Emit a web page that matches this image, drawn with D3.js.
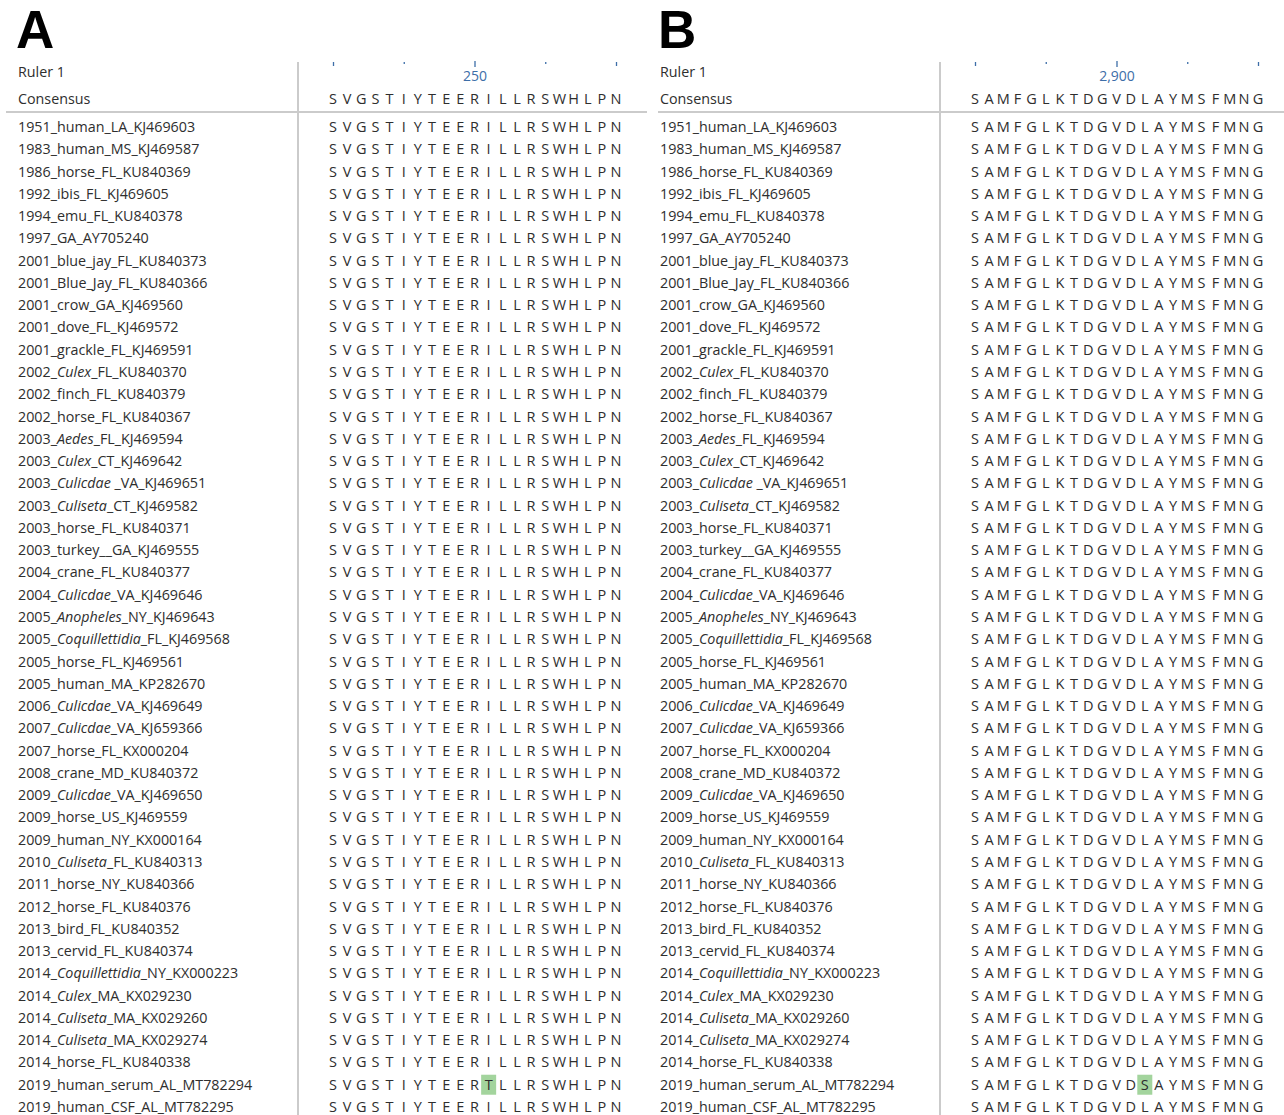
<!DOCTYPE html>
<html><head><meta charset="utf-8">
<script src="https://cdn.jsdelivr.net/npm/d3@7"></script>
<style>
html,body{margin:0;padding:0;background:#fff;}
svg{display:block;}
</style></head>
<body>
<svg id="chart" width="1284" height="1115"></svg>
<script>
// ---------- DATA ----------
// isolate names; *...* marks italic (genus) parts
const isolates = [
  "1951_human_LA_KJ469603","1983_human_MS_KJ469587","1986_horse_FL_KU840369","1992_ibis_FL_KJ469605",
  "1994_emu_FL_KU840378","1997_GA_AY705240","2001_blue_jay_FL_KU840373","2001_Blue_Jay_FL_KU840366",
  "2001_crow_GA_KJ469560","2001_dove_FL_KJ469572","2001_grackle_FL_KJ469591","2002_*Culex*_FL_KU840370",
  "2002_finch_FL_KU840379","2002_horse_FL_KU840367","2003_*Aedes*_FL_KJ469594","2003_*Culex*_CT_KJ469642",
  "2003_*Culicdae* _VA_KJ469651","2003_*Culiseta*_CT_KJ469582","2003_horse_FL_KU840371","2003_turkey__GA_KJ469555",
  "2004_crane_FL_KU840377","2004_*Culicdae*_VA_KJ469646","2005_*Anopheles*_NY_KJ469643","2005_*Coquillettidia*_FL_KJ469568",
  "2005_horse_FL_KJ469561","2005_human_MA_KP282670","2006_*Culicdae*_VA_KJ469649","2007_*Culicdae*_VA_KJ659366",
  "2007_horse_FL_KX000204","2008_crane_MD_KU840372","2009_*Culicdae*_VA_KJ469650","2009_horse_US_KJ469559",
  "2009_human_NY_KX000164","2010_*Culiseta*_FL_KU840313","2011_horse_NY_KU840366","2012_horse_FL_KU840376",
  "2013_bird_FL_KU840352","2013_cervid_FL_KU840374","2014_*Coquillettidia*_NY_KX000223","2014_*Culex*_MA_KX029230",
  "2014_*Culiseta*_MA_KX029260","2014_*Culiseta*_MA_KX029274","2014_horse_FL_KU840338","2019_human_serum_AL_MT782294",
  "2019_human_CSF_AL_MT782295"
];

// panel A
const panelA_label = "A";
const panelA_start = 240;                       // position of first column
const panelA_consensus = "SVGSTIYTEERILLRSWHLPN";
const panelA_ticks = [240, 245, 250, 255, 260];
const panelA_tickLabels = {250: "250"};
const panelA_variants = [{isolate: "2019_human_serum_AL_MT782294", pos: 251, aa: "T"}];

// panel B
const panelB_label = "B";
const panelB_start = 2890;
const panelB_consensus = "SAMFGLKTDGVDLAYMSFMNG";
const panelB_ticks = [2890, 2895, 2900, 2905, 2910];
const panelB_tickLabels = {2900: "2,900"};
const panelB_variants = [{isolate: "2019_human_serum_AL_MT782294", pos: 2902, aa: "S"}];

// ---------- DRAW ----------
const svg = d3.select("#chart");
const FONT = "'Open Sans', 'Noto Sans', sans-serif";
const TXT = "#2e2e2e";
const GRID = "#cbcbcb";
const LBL = 14.3;
const SEQ = 14.5;

function richText(sel, name) {
  const parts = name.split("*");
  parts.forEach((p, i) => {
    if (!p) return;
    sel.append("tspan").text(p).attr("font-style", i % 2 ? "italic" : "normal");
  });
}

function drawPanel(cfg) {
  const g = svg.append("g").attr("transform", `translate(${cfg.dx},0)`);
  const n = cfg.consensus.length;
  const x = d3.scaleLinear().domain([cfg.start, cfg.start + n - 1]).range([333, 616]);
  const y = d3.scalePoint().domain(isolates).range([127, 1107]);

  // panel letter
  g.append("text").attr("x", 16).attr("y", 48)
    .attr("font-family", "'Liberation Sans', Arial, sans-serif").attr("font-weight", "bold")
    .attr("font-size", 53).attr("fill", "#000").text(cfg.label);

  // separators
  g.append("line").attr("x1", 298).attr("x2", 298).attr("y1", 62).attr("y2", 1115)
    .attr("stroke", GRID).attr("stroke-width", 2);
  g.append("line").attr("x1", cfg.hx1).attr("x2", cfg.hx2).attr("y1", 112).attr("y2", 112)
    .attr("stroke", GRID).attr("stroke-width", 2);

  // header labels
  g.append("text").attr("x", 18).attr("y", 77).attr("font-family", FONT).attr("font-size", LBL)
    .attr("fill", TXT).text("Ruler 1");
  g.append("text").attr("x", 18).attr("y", 104).attr("font-family", FONT).attr("font-size", LBL)
    .attr("fill", TXT).text("Consensus");

  // ruler (axis)
  const tickCol = "#3d6ea8";
  const sizes = v => v in cfg.tickLabels ? 6 : ((v - cfg.start) % 10 === 0 ? 4 : 2);
  cfg.ticks.forEach(v => {
    const ax = d3.axisBottom(x).tickValues([v]).tickSize(sizes(v)).tickPadding(4)
      .tickFormat(d => cfg.tickLabels[d] || "");
    const a = g.append("g").attr("transform", `translate(0,${v in cfg.tickLabels ? 61 : 62})`).call(ax);
    a.select(".domain").remove();
    a.selectAll("line").attr("stroke", tickCol).attr("stroke-width", 1.3);
    a.selectAll("text").attr("font-family", FONT).attr("font-size", 14).attr("fill", tickCol);
  });

  const cols = d3.range(n).map(i => cfg.start + i);

  // consensus
  g.append("g").selectAll("text").data(cols).join("text")
    .attr("x", d => x(d)).attr("y", 104).attr("text-anchor", "middle")
    .attr("font-family", FONT).attr("font-size", SEQ).attr("fill", TXT)
    .text(d => cfg.consensus[d - cfg.start]);

  // rows
  isolates.forEach(name => {
    const cy = y(name);
    const t = g.append("text").attr("x", 18).attr("y", cy + 5).attr("font-family", FONT)
      .attr("font-size", LBL).attr("fill", TXT);
    richText(t, name);
    const vars = cfg.variants.filter(v => v.isolate === name);
    vars.forEach(v => {
      g.append("rect").attr("x", x(v.pos) - 7.5).attr("y", cy - 10).attr("width", 15).attr("height", 20)
        .attr("fill", "#a3d49d");
    });
    g.append("g").selectAll("text").data(cols).join("text")
      .attr("x", d => x(d)).attr("y", cy + 5).attr("text-anchor", "middle")
      .attr("font-family", FONT).attr("font-size", SEQ).attr("fill", TXT)
      .text(d => { const v = vars.find(v => v.pos === d); return v ? v.aa : cfg.consensus[d - cfg.start]; });
  });
}

drawPanel({dx: 0, label: panelA_label, start: panelA_start, consensus: panelA_consensus,
  ticks: panelA_ticks, tickLabels: panelA_tickLabels, variants: panelA_variants, hx1: 6, hx2: 647});
drawPanel({dx: 642, label: panelB_label, start: panelB_start, consensus: panelB_consensus,
  ticks: panelB_ticks, tickLabels: panelB_tickLabels, variants: panelB_variants, hx1: 16, hx2: 642});
</script>
</body></html>
